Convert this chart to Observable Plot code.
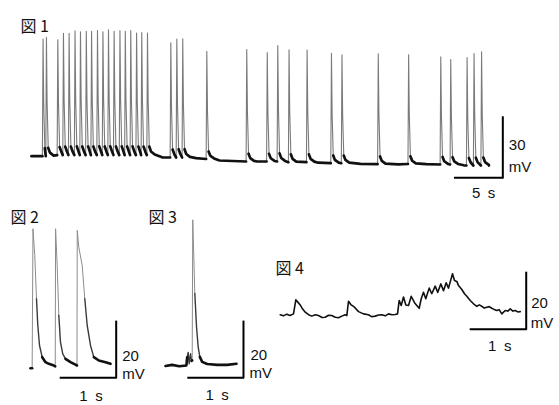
<!DOCTYPE html>
<html><head><meta charset="utf-8">
<script src="https://cdn.jsdelivr.net/npm/d3@7"></script>
<script src="https://cdn.jsdelivr.net/npm/@observablehq/plot@0.6"></script>
<style>
html,body{margin:0;padding:0;background:#fff;}
#fig{position:relative;width:559px;height:405px;overflow:hidden;background:#fff;}
#fig svg{position:absolute;left:0;top:0;}
</style></head><body><div id="fig"></div>
<script>
// ---------- 図 1 : spike train (time in s, membrane potential in mV) ----------
const spikeTimes1 = [1.20,1.56,2.77,3.37,3.97,4.60,5.18,5.80,6.36,6.99,7.57,8.16,8.76,9.38,9.95,10.53,11.15,11.70,12.31,
  14.79,15.43,16.06,18.62,22.87,25.05,26.17,27.37,29.29,31.88,33.00,36.86,40.09,43.51,44.57,46.31,47.05,47.85];
const spikePeaks1 = [-1.25,-0.35,-1.65,1.6,1.6,2.85,2.35,2.65,2.6,3.0,2.35,3.35,2.6,3.0,2.6,3.0,1.75,2.0,1.75,
  -3.1,-1.3,-1.1,-7.35,-6.5,-8.0,-4.5,-6.65,-6.8,-8.4,-9.1,-8.65,-9.1,-10.2,-11.5,-10.5,-8.5,-7.7];
const spikeBase1 = [-59.85,-59.85,-59.3,-59.3,-59.3,-59.3,-59.3,-59.3,-59.3,-59.3,-59.3,-59.3,-59.3,-59.3,-59.3,-59.3,-59.3,-59.3,-59.3,
  -60.5,-60.5,-60.5,-61.25,-62.5,-62.5,-62.5,-62.85,-62.85,-63.35,-63.35,-63.85,-63.75,-64.0,-64.0,-64.5,-64.5,-64.5];
const restKnots1 = [[0,-59.85],[13.0,-59.9],[13.9,-60.4],[17.5,-60.8],[20.0,-62.0],[24.0,-62.5],[30.5,-63.1],
  [35.0,-63.7],[39.0,-63.9],[42.0,-63.8],[46.0,-64.4],[48.67,-64.5]];
// spike waveform: [time offset s, fraction of spike amplitude]
const spikeShape1 = [[-0.04,0],[0.03,1],[0.10,0.45],[0.22,0.07]];
const tailShape1 = [[0.22,0.07],[0.40,0.03],[0.80,0.005]];

// ---------- 図 2 : three action potentials ----------
const trace2 = [[0,-61],[0.03,-61],[0.045,-10.8],[0.078,-20.4],[0.109,-36],[0.133,-45.6],[0.164,-52.8],[0.213,-57],
  [0.273,-58.8],[0.333,-59.4],[0.424,-60],[0.45,-60.3],
  [0.456,-10.8],[0.485,-24],[0.515,-42],[0.545,-51.6],[0.587,-55.8],[0.636,-57.6],[0.727,-58.8],[0.818,-59.7],[0.845,-60],
  [0.85,-11.4],[0.878,-17.4],[0.94,-24],[0.987,-36],[1.031,-45.6],[1.091,-52.8],[1.151,-57],[1.242,-58.2],[1.364,-58.8],[1.455,-59.4]];

// ---------- 図 3 : single action potential preceded by small potentials ----------
const trace3 = [[0,-60],[0.12,-59.6],[0.25,-60.1],[0.38,-59.8],[0.394,-56.9],[0.412,-55.1],[0.43,-59.2],[0.455,-55.6],
  [0.473,-58.2],[0.485,-58],[0.496,-7.4],[0.533,-33.9],[0.564,-45.9],[0.594,-53.1],[0.624,-56.7],[0.667,-58.5],
  [0.758,-59.3],[0.94,-59.6],[1.121,-59.6],[1.291,-59.2]];

// ---------- 図 4 : summating small potentials ----------
const trace4 = [[0,-59.9],[0.06,-60.3],[0.12,-59.7],[0.18,-60.2],[0.242,-59.6],[0.284,-54.6],[0.32,-55.4],[0.364,-56.4],[0.405,-57.8],[0.455,-59],
  [0.515,-59.9],[0.575,-60.4],[0.64,-59.9],[0.696,-60.2],[0.76,-60.9],[0.818,-60.8],[0.88,-60.1],[0.938,-60.2],[1.0,-60.8],[1.06,-61],[1.12,-60.4],[1.182,-59.9],[1.211,-60.2],
  [1.242,-55.1],[1.291,-56.4],[1.351,-57.2],[1.424,-58.8],[1.515,-59.6],[1.605,-59.9],[1.66,-60.6],[1.727,-60.4],[1.79,-60.0],[1.847,-59.9],
  [1.91,-60.3],[1.969,-59.6],[2.03,-59.9],[2.091,-59.8],[2.133,-59.6],[2.164,-54.8],[2.2,-56.6],[2.242,-53.6],[2.284,-56.4],[2.333,-56.6],
  [2.382,-53.3],[2.442,-55.6],[2.484,-56.6],[2.527,-57.6],[2.564,-54.2],[2.605,-51.9],[2.647,-54.2],[2.709,-50.4],
  [2.756,-52.4],[2.818,-49.7],[2.865,-51.9],[2.92,-48.9],[2.969,-51.3],[3.018,-48.5],[3.06,-50.4],[3.133,-45.3],
  [3.169,-47.7],[3.211,-48],[3.242,-49.5],[3.302,-50.9],[3.351,-52.4],[3.393,-53.3],[3.455,-54.8],[3.515,-56],
  [3.575,-56.9],[3.62,-56.4],[3.665,-56.9],[3.71,-57.5],[3.756,-57.2],[3.80,-57.0],[3.847,-57.6],[3.89,-58.0],[3.938,-58.4],[3.98,-58.1],[4.029,-59.6],[4.091,-58.4],[4.14,-58.6],[4.182,-57.8],
  [4.23,-58.6],[4.273,-58.4],[4.32,-58.9],[4.364,-58.8]];

// ---------- labels ----------
const titles = ["図 1","図 2","図 3","図 4"];
const barLabels1 = ["30","mV","5\u2002s"];
const barLabels = ["20","mV","1\u2002s"];

// ---------- helpers ----------
const FONT = "'Noto Sans CJK JP', 'Noto Sans', sans-serif";
const LFONT = "'Liberation Sans', Arial, sans-serif";
const fig = document.getElementById("fig");

function buildTrace1() {
  const out = []; let seg = 0;
  const push = (arr, kind) => { arr.forEach(([t, v]) => out.push({t, v, seg, kind})); seg++; };
  let rest = [restKnots1[0]];
  spikeTimes1.forEach((t, i) => {
    const b = spikeBase1[i], a = spikePeaks1[i] - b;
    const start = t + spikeShape1[0][0];
    const last = rest[rest.length - 1][0];
    restKnots1.forEach(([kt, kv]) => { if (kt > last && kt < start - 0.1) rest.push([kt, kv]); });
    rest.push([start, b]);
    push(rest, "rest");
    push(spikeShape1.map(([dt, f]) => [t + dt, b + f * a]), "spike");
    const next = i + 1 < spikeTimes1.length ? spikeTimes1[i + 1] + spikeShape1[0][0] : Infinity;
    rest = tailShape1.filter(([dt]) => t + dt < next).map(([dt, f]) => [t + dt, b + f * a]);
  });
  const last = rest[rest.length - 1][0];
  restKnots1.forEach(([kt, kv]) => { if (kt > last) rest.push([kt, kv]); });
  push(rest, "rest");
  return out;
}

// split a trace into runs drawn with different strokes (thin fast parts, thick slow parts)
function runs(trace, cls) {
  const out = []; let run = -1, prev = null;
  for (let i = 1; i < trace.length; i++) {
    const [t0, v0] = trace[i - 1], [t1, v1] = trace[i];
    const c = cls(Math.max(v0, v1));
    if (c !== prev) { run++; out.push({t: t0, v: v0, run, c}); prev = c; }
    out.push({t: t1, v: v1, run, c});
  }
  return out;
}
const cls3 = (vmax) => vmax > -30 ? "light" : vmax > -56.5 ? "mid" : "dark";
const STY = {light: {stroke: "#8c8c8c", strokeWidth: 1}, mid: {stroke: "#3a3a3a", strokeWidth: 1.4}, dark: {stroke: "#111", strokeWidth: 2.6}};

function runMarks(data) {
  return ["light", "mid", "dark"].map(c =>
    Plot.line(data.filter(d => d.c === c), {x: "t", y: "v", z: "run", ...STY[c], strokeLinejoin: "round", strokeLinecap: "round"}));
}

function scaleBar(bar, labels, off) {
  const [lab0, lab1, lab2] = labels;
  const txt = {fontFamily: LFONT, fontSize: 15, fill: "#111"};
  return [
    Plot.ruleY([bar.y0], {x1: bar.x0, x2: bar.x1, stroke: "#000", strokeWidth: 2, strokeLinecap: "square"}),
    Plot.ruleX([bar.x1], {y1: bar.y0, y2: bar.y1, stroke: "#000", strokeWidth: 2, strokeLinecap: "square"}),
    Plot.text([lab0], {x: () => bar.x1, y: () => bar.y0, text: d => d, dx: off.a[0], dy: off.a[1], textAnchor: "start", ...txt}),
    Plot.text([lab1], {x: () => bar.x1, y: () => bar.y0, text: d => d, dx: off.b[0], dy: off.b[1], textAnchor: "start", ...txt}),
    Plot.text([lab2], {x: () => (bar.x0 + bar.x1) / 2, y: () => bar.y0, text: d => d, dx: off.c[0], dy: off.c[1], textAnchor: "middle", ...txt})
  ];
}

function title(label, left, top) {
  return Plot.text([label], {frameAnchor: "top-left", text: d => d, dx: left, dy: top, textAnchor: "start",
    fontFamily: FONT, fontSize: 16, fill: "#111"});
}

function panel(xd, xr, yd, yr, marks) {
  const svg = Plot.plot({
    width: 559, height: 405, margin: 0,
    x: {domain: xd, range: xr, axis: null},
    y: {domain: yd, range: yr, axis: null},
    style: {background: "transparent", fontFamily: FONT, overflow: "visible"},
    marks
  });
  fig.appendChild(svg);
}

// 図 1
const t1 = buildTrace1();
panel([0, 50], [31, 501], [-60, 0], [156, 36], [
  Plot.line(t1.filter(d => d.kind === "spike"), {x: "t", y: "v", z: "seg", stroke: "#7a7a7a", strokeWidth: 1.1, strokeLinejoin: "round"}),
  Plot.line(t1.filter(d => d.kind === "rest"), {x: "t", y: "v", z: "seg", stroke: "#111", strokeWidth: 2.7, strokeLinejoin: "round", strokeLinecap: "round"}),
  ...scaleBar({x0: 45.1, x1: 50.14, y0: -70.65, y1: -40.65}, barLabels1, {a: [6, -33], b: [6, -11], c: [4.5, 15]}),
  title(titles[0], 20, 20)
]);

// 図 2
panel([0, 1], [30, 85], [-60, -40], [365, 309.4], [
  ...runMarks(runs(trace2, cls3)),
  ...scaleBar({x0: 0.558, x1: 1.558, y0: -64.4, y1: -44.4}, barLabels, {a: [6, -22], b: [6, -4], c: [2.3, 18]}),
  title(titles[1], 10, 211)
]);

// 図 3
panel([0, 1], [165, 220], [-60, -40], [365.5, 309.9], [
  ...runMarks(runs(trace3, cls3)),
  ...scaleBar({x0: 0.424, x1: 1.418, y0: -64.2, y1: -44.2}, barLabels, {a: [7, -22], b: [6, -4], c: [1, 18]}),
  title(titles[2], 148, 211)
]);

// 図 4
panel([0, 1], [279.7, 334.7], [-60, -40], [314.5, 258.5], [
  Plot.line(trace4, {x: d => d[0], y: d => d[1], stroke: "#111", strokeWidth: 1.6, strokeLinejoin: "round"}),
  ...scaleBar({x0: 3.473, x1: 4.473, y0: -65.07, y1: -45.07}, barLabels, {a: [5, -25.7], b: [4.5, -5.7], c: [1, 17.3]}),
  title(titles[3], 275, 262)
]);
</script></body></html>
